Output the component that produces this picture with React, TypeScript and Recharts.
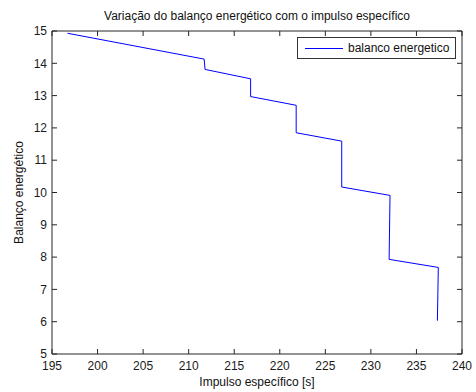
import { LineChart, Line, XAxis, YAxis, Legend } from 'recharts';

// impulso específico [s] e balanço energético
const impulso = [196.7, 211.7, 211.8, 216.8, 216.8, 221.8, 221.8, 226.8, 226.8, 232.1, 232.0, 237.4, 237.3];
const balanco = [14.93, 14.13, 13.81, 13.52, 12.97, 12.7, 11.85, 11.59, 10.17, 9.91, 7.93, 7.68, 6.03];

const xTicks = [195, 200, 205, 210, 215, 220, 225, 230, 235, 240];
const yTicks = [5, 6, 7, 8, 9, 10, 11, 12, 13, 14, 15];

const data = impulso.map((x, i) => ({ x, y: balanco[i] }));

const font = '"Liberation Sans", Arial, sans-serif';
const axisColor = '#262626';
const tickStyle = { fontSize: 12, fill: '#1a1a1a', fontFamily: font };

const LegendBox = () => (
  <div
    style={{
      width: 157,
      height: 20,
      border: '1px solid #333',
      background: '#fff',
      display: 'flex',
      alignItems: 'center',
      fontFamily: font,
      fontSize: 12,
      color: '#111',
    }}
  >
    <span style={{ display: 'inline-block', width: 38, height: 1, background: '#0000ff', marginLeft: 7, marginRight: 5 }} />
    <span>balanco energetico</span>
  </div>
);

export default function App() {
  return (
    <div style={{ position: 'absolute', left: 0, top: 0, background: '#fff' }}>
      <LineChart width={476} height={392} data={data} margin={{ top: 30, right: 13, bottom: 0, left: 12 }}>
        <XAxis
          xAxisId="bottom"
          dataKey="x"
          type="number"
          domain={[195, 240]}
          ticks={xTicks}
          height={38}
          stroke={axisColor}
          tickSize={-5}
          tickMargin={12}
          tick={tickStyle}
          label={{ value: 'Impulso específico [s]', position: 'insideBottom', offset: 6, style: { fontSize: 12, fill: '#111', fontFamily: font } }}
        />
        <XAxis
          xAxisId="top"
          dataKey="x"
          orientation="top"
          type="number"
          domain={[195, 240]}
          ticks={xTicks}
          height={1}
          stroke={axisColor}
          tickSize={-5}
          tickFormatter={() => ''}
          label={{ value: 'Variação do balanço energético com o impulso específico', position: 'top', offset: 10, style: { fontSize: 12, fill: '#111', fontFamily: font } }}
        />
        <YAxis
          yAxisId="left"
          type="number"
          domain={[5, 15]}
          ticks={yTicks}
          width={40}
          stroke={axisColor}
          tickSize={-5}
          tickMargin={10}
          tick={tickStyle}
          label={{ value: 'Balanço energético', angle: -90, position: 'insideLeft', offset: 7, style: { textAnchor: 'middle', fontSize: 12, fill: '#111', fontFamily: font } }}
        />
        <YAxis
          yAxisId="right"
          orientation="right"
          type="number"
          domain={[5, 15]}
          ticks={yTicks}
          width={1}
          stroke={axisColor}
          tickSize={-5}
          tickFormatter={() => ''}
        />
        <Legend
          layout="vertical"
          align="center"
          verticalAlign="middle"
          wrapperStyle={{ top: 37, left: 297, width: 159 }}
          content={<LegendBox />}
        />
        <Line
          xAxisId="bottom"
          yAxisId="left"
          dataKey="y"
          name="balanco energetico"
          type="linear"
          stroke="#0000ff"
          strokeWidth={1}
          dot={false}
          isAnimationActive={false}
        />
        <Line
          xAxisId="top"
          yAxisId="right"
          dataKey="y"
          legendType="none"
          stroke="none"
          strokeWidth={0}
          dot={false}
          activeDot={false}
          isAnimationActive={false}
        />
      </LineChart>
    </div>
  );
}
